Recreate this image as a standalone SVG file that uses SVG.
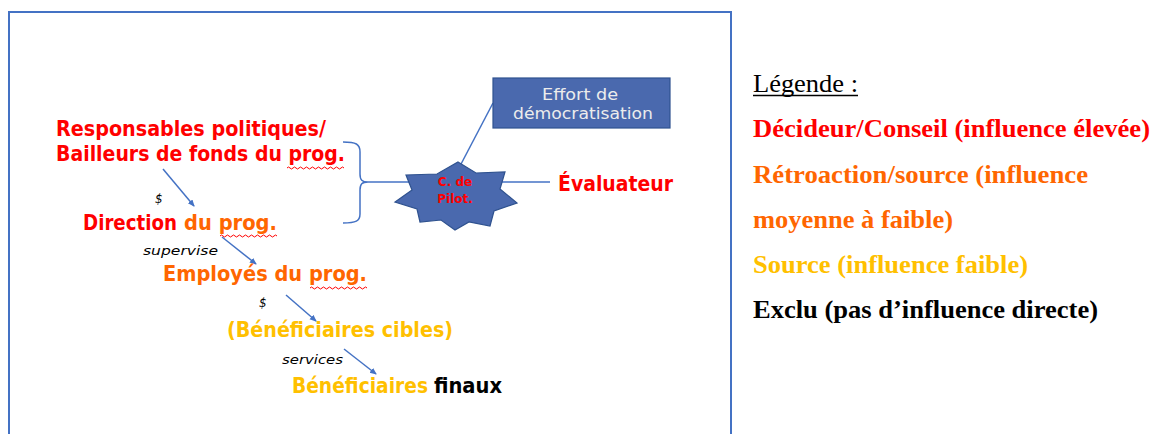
<svg xmlns="http://www.w3.org/2000/svg" width="1153" height="434" viewBox="0 0 1153 434">
<style>
.m{font-family:"DejaVu Sans","Open Sans",sans-serif;font-weight:bold;font-size:21px}
.mc{font-family:"DejaVu Sans Condensed","DejaVu Sans",sans-serif;font-weight:bold;font-size:21px}
.s{font-family:"DejaVu Sans","Open Sans",sans-serif;font-style:italic;font-size:12px;fill:#000}
.red{fill:#FF0000}.org{fill:#FF6600}.yel{fill:#FFC000}.blk{fill:#000}
.lg{font-family:"Liberation Serif","Times New Roman",serif;font-weight:bold;font-size:26px}
.con{stroke:#4472C4;stroke-width:1.5;fill:none}
.wave{stroke:#FF0000;stroke-width:1;fill:none}
.bx{font-family:"DejaVu Sans","Open Sans",sans-serif;font-size:15px;fill:#ECECEC}
.st{font-family:"DejaVu Sans","Open Sans",sans-serif;font-weight:bold;font-size:12px;fill:#FF0000}
</style>
<defs>
<marker id="ah" markerWidth="8" markerHeight="8" refX="6" refY="3" orient="auto" markerUnits="userSpaceOnUse">
<path d="M0,0 L7,3 L0,6 z" fill="#4472C4"/>
</marker>
</defs>
<rect width="1153" height="434" fill="#fff"/>
<path d="M9,436 V12 H731 V436" fill="none" stroke="#4472C4" stroke-width="2"/>

<g id="connectors">
<path class="con" d="M343,142 C356,142 360,144 360,152 L360,174 C360,180 362,182 368,182 C362,182 360,184 360,190 L360,214 C360,221 356,223 343,223"/>
<line class="con" x1="368" y1="182" x2="420" y2="182"/>
<line class="con" x1="495" y1="182" x2="550" y2="182"/>
<line class="con" x1="493" y1="103" x2="460" y2="166"/>
<line class="con" x1="163" y1="169" x2="194" y2="206" marker-end="url(#ah)"/>
<line class="con" x1="222" y1="237" x2="256" y2="264" marker-end="url(#ah)"/>
<line class="con" x1="286" y1="295" x2="316" y2="321" marker-end="url(#ah)"/>
<line class="con" x1="344" y1="349" x2="376" y2="374" marker-end="url(#ah)"/>
<text class="s" x="155" y="203">$</text>
<text class="s" x="143" y="255" textLength="75" lengthAdjust="spacingAndGlyphs">supervise</text>
<text class="s" x="259" y="307">$</text>
<text class="s" x="282" y="364" textLength="61" lengthAdjust="spacingAndGlyphs">services</text>
</g>

<g id="responsables">
<text class="m red" x="56" y="136" textLength="270" lengthAdjust="spacingAndGlyphs">Responsables politiques/</text>
<text class="m red" x="56" y="161" textLength="289" lengthAdjust="spacingAndGlyphs">Bailleurs de fonds du prog.</text>
<path class="wave" d="M287,168 q1.5,-2 3,0 t3,0 t3,0 t3,0 t3,0 t3,0 t3,0 t3,0 t3,0 t3,0 t3,0 t3,0 t3,0 t3,0 t3,0 t3,0 t3,0 t3,0 t3,0"/>
</g>

<g id="direction">
<text class="m red" x="83" y="230" textLength="94" lengthAdjust="spacingAndGlyphs">Direction</text>
<text class="m org" x="184" y="230" textLength="93" lengthAdjust="spacingAndGlyphs">du prog.</text>
<path class="wave" d="M220,236 q1.5,-2 3,0 t3,0 t3,0 t3,0 t3,0 t3,0 t3,0 t3,0 t3,0 t3,0 t3,0 t3,0 t3,0 t3,0 t3,0 t3,0 t3,0 t3,0 t3,0"/>
</g>

<g id="employes">
<text class="m org" x="163" y="281" textLength="204" lengthAdjust="spacingAndGlyphs">Employés du prog.</text>
<path class="wave" d="M310,288 q1.5,-2 3,0 t3,0 t3,0 t3,0 t3,0 t3,0 t3,0 t3,0 t3,0 t3,0 t3,0 t3,0 t3,0 t3,0 t3,0 t3,0 t3,0 t3,0 t3,0"/>
</g>

<g id="cibles">
<text class="m yel" x="227" y="337" textLength="226" lengthAdjust="spacingAndGlyphs">(Bénéficiaires cibles)</text>
</g>

<g id="finaux">
<text class="mc yel" x="292" y="393" textLength="136" lengthAdjust="spacingAndGlyphs">Bénéficiaires</text>
<text class="mc blk" x="434" y="393" textLength="68" lengthAdjust="spacingAndGlyphs">finaux</text>
</g>

<g id="pilot">
<polygon points="458,162 476,173 505,172 500,189 517,203 494,211 490,226 469,222 455,230 441,220 420,222 417,209 395,202 412,190 406,175 437,174" fill="#4A69AE" stroke="#2F528F" stroke-width="1.2"/>
<text class="st" x="455" y="186" text-anchor="middle">C. de</text>
<text class="st" x="455" y="203" text-anchor="middle">Pilot.</text>
</g>

<g id="effort">
<rect x="493" y="78" width="177" height="50" fill="#4A69AE" stroke="#2F528F" stroke-width="1.2"/>
<text class="bx" x="580" y="100" text-anchor="middle" textLength="76" lengthAdjust="spacingAndGlyphs">Effort de</text>
<text class="bx" x="583" y="119" text-anchor="middle" textLength="140" lengthAdjust="spacingAndGlyphs">démocratisation</text>
</g>

<g id="evaluateur">
<text class="m red" x="558" y="191" textLength="115" lengthAdjust="spacingAndGlyphs">Évaluateur</text>
</g>

<g id="legende">
<text x="753" y="92" font-family="Liberation Serif,Times New Roman,serif" font-size="26" fill="#000" textLength="105" lengthAdjust="spacingAndGlyphs">Légende :</text>
<line x1="753" y1="95.5" x2="858" y2="95.5" stroke="#000" stroke-width="1.3"/>
<text class="lg red" x="753" y="137" textLength="397" lengthAdjust="spacingAndGlyphs">Décideur/Conseil (influence élevée)</text>
<text class="lg org" x="753" y="183" textLength="335" lengthAdjust="spacingAndGlyphs">Rétroaction/source (influence</text>
<text class="lg org" x="753" y="228" textLength="200" lengthAdjust="spacingAndGlyphs">moyenne à faible)</text>
<text class="lg yel" x="753" y="273" textLength="275" lengthAdjust="spacingAndGlyphs">Source (influence faible)</text>
<text class="lg blk" x="753" y="318" textLength="345" lengthAdjust="spacingAndGlyphs">Exclu (pas d’influence directe)</text>
</g>
</svg>
